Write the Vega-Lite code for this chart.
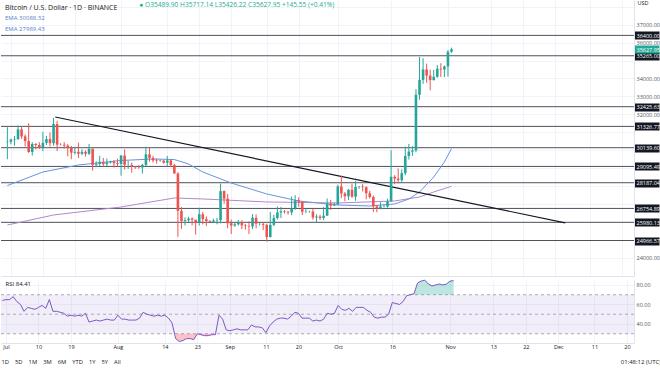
{
  "$schema": "https://vega.github.io/schema/vega-lite/v6.json",
  "padding": 0,
  "autosize": {"type": "pad"},
  "background": "white",
  "spacing": -4,
  "config": {"view": {"stroke": null}, "font": "Open Sans", "axis": {"labelFont": "Open Sans", "titleFont": "Open Sans"}},
  "title": {"text": "●  O35489.90  H35717.14  L35426.22  C35627.95  +145.55 (+0.41%)", "anchor": "start", "orient": "top", "dx": 139, "offset": -9, "fontSize": 6.6, "fontWeight": "normal", "color": "#22ab94"},
  "datasets": {
    "candles": [
      {"date":"2023-06-30","open":30450,"high":31280,"low":29500,"close":30470,"rsi":64},
      {"date":"2023-07-01","open":30470,"high":30650,"low":30330,"close":30590,"rsi":65},
      {"date":"2023-07-02","open":30590,"high":30790,"low":30250,"close":30620,"rsi":65},
      {"date":"2023-07-03","open":30620,"high":31380,"low":30570,"close":31160,"rsi":68},
      {"date":"2023-07-04","open":31160,"high":31330,"low":30630,"close":30770,"rsi":63},
      {"date":"2023-07-05","open":30770,"high":30880,"low":30210,"close":30510,"rsi":60},
      {"date":"2023-07-06","open":30510,"high":31500,"low":29850,"close":29900,"rsi":53},
      {"date":"2023-07-07","open":29900,"high":30450,"low":29700,"close":30350,"rsi":57},
      {"date":"2023-07-08","open":30350,"high":30390,"low":30040,"close":30290,"rsi":56},
      {"date":"2023-07-09","open":30290,"high":30440,"low":30070,"close":30170,"rsi":55},
      {"date":"2023-07-10","open":30170,"high":31030,"low":29950,"close":30410,"rsi":57},
      {"date":"2023-07-11","open":30410,"high":30800,"low":30290,"close":30620,"rsi":59},
      {"date":"2023-07-12","open":30620,"high":30990,"low":30200,"close":30390,"rsi":56},
      {"date":"2023-07-13","open":30390,"high":31800,"low":30250,"close":31460,"rsi":65},
      {"date":"2023-07-14","open":31460,"high":31640,"low":29950,"close":30310,"rsi":53},
      {"date":"2023-07-15","open":30310,"high":30390,"low":30260,"close":30300,"rsi":53},
      {"date":"2023-07-16","open":30300,"high":30450,"low":30090,"close":30250,"rsi":52},
      {"date":"2023-07-17","open":30250,"high":30340,"low":29660,"close":30140,"rsi":51},
      {"date":"2023-07-18","open":30140,"high":30240,"low":29500,"close":29860,"rsi":48},
      {"date":"2023-07-19","open":29860,"high":30190,"low":29760,"close":29910,"rsi":49},
      {"date":"2023-07-20","open":29910,"high":30420,"low":29570,"close":29800,"rsi":48},
      {"date":"2023-07-21","open":29800,"high":30050,"low":29720,"close":29910,"rsi":49},
      {"date":"2023-07-22","open":29910,"high":29990,"low":29640,"close":29800,"rsi":48},
      {"date":"2023-07-23","open":29800,"high":30350,"low":29730,"close":30080,"rsi":51},
      {"date":"2023-07-24","open":30080,"high":30100,"low":28860,"close":29180,"rsi":42},
      {"date":"2023-07-25","open":29180,"high":29380,"low":29050,"close":29230,"rsi":43},
      {"date":"2023-07-26","open":29230,"high":29690,"low":29100,"close":29350,"rsi":44},
      {"date":"2023-07-27","open":29350,"high":29570,"low":29090,"close":29220,"rsi":43},
      {"date":"2023-07-28","open":29220,"high":29530,"low":29120,"close":29310,"rsi":44},
      {"date":"2023-07-29","open":29310,"high":29410,"low":29260,"close":29350,"rsi":45},
      {"date":"2023-07-30","open":29350,"high":29450,"low":29030,"close":29280,"rsi":44},
      {"date":"2023-07-31","open":29280,"high":29530,"low":29100,"close":29230,"rsi":44},
      {"date":"2023-08-01","open":29230,"high":29740,"low":28580,"close":29700,"rsi":49},
      {"date":"2023-08-02","open":29700,"high":30050,"low":28920,"close":29180,"rsi":45},
      {"date":"2023-08-03","open":29180,"high":29410,"low":28960,"close":29180,"rsi":45},
      {"date":"2023-08-04","open":29180,"high":29310,"low":28750,"close":29080,"rsi":44},
      {"date":"2023-08-05","open":29080,"high":29110,"low":28960,"close":29050,"rsi":44},
      {"date":"2023-08-06","open":29050,"high":29170,"low":28970,"close":29040,"rsi":44},
      {"date":"2023-08-07","open":29040,"high":29240,"low":28700,"close":29180,"rsi":46},
      {"date":"2023-08-08","open":29180,"high":30200,"low":29110,"close":29770,"rsi":52},
      {"date":"2023-08-09","open":29770,"high":30140,"low":29360,"close":29570,"rsi":50},
      {"date":"2023-08-10","open":29570,"high":29690,"low":29320,"close":29430,"rsi":49},
      {"date":"2023-08-11","open":29430,"high":29540,"low":29250,"close":29400,"rsi":48},
      {"date":"2023-08-12","open":29400,"high":29480,"low":29360,"close":29420,"rsi":49},
      {"date":"2023-08-13","open":29420,"high":29460,"low":29250,"close":29300,"rsi":48},
      {"date":"2023-08-14","open":29300,"high":29680,"low":29100,"close":29430,"rsi":49},
      {"date":"2023-08-15","open":29430,"high":29480,"low":29060,"close":29170,"rsi":46},
      {"date":"2023-08-16","open":29170,"high":29250,"low":28700,"close":28700,"rsi":41},
      {"date":"2023-08-17","open":28700,"high":28780,"low":25170,"close":26620,"rsi":25},
      {"date":"2023-08-18","open":26620,"high":26830,"low":25620,"close":26050,"rsi":22},
      {"date":"2023-08-19","open":26050,"high":26260,"low":25800,"close":26100,"rsi":23},
      {"date":"2023-08-20","open":26100,"high":26290,"low":26000,"close":26190,"rsi":25},
      {"date":"2023-08-21","open":26190,"high":26260,"low":25810,"close":26120,"rsi":25},
      {"date":"2023-08-22","open":26120,"high":26130,"low":25300,"close":25990,"rsi":24},
      {"date":"2023-08-23","open":25990,"high":26790,"low":25800,"close":26430,"rsi":30},
      {"date":"2023-08-24","open":26430,"high":26560,"low":25860,"close":26160,"rsi":29},
      {"date":"2023-08-25","open":26160,"high":26310,"low":25780,"close":26050,"rsi":28},
      {"date":"2023-08-26","open":26050,"high":26100,"low":25980,"close":26010,"rsi":28},
      {"date":"2023-08-27","open":26010,"high":26180,"low":25970,"close":26080,"rsi":29},
      {"date":"2023-08-28","open":26080,"high":26220,"low":25870,"close":26100,"rsi":29},
      {"date":"2023-08-29","open":26100,"high":28140,"low":25920,"close":27720,"rsi":49},
      {"date":"2023-08-30","open":27720,"high":27760,"low":27020,"close":27300,"rsi":45},
      {"date":"2023-08-31","open":27300,"high":27570,"low":25650,"close":25930,"rsi":34},
      {"date":"2023-09-01","open":25930,"high":26130,"low":25330,"close":25800,"rsi":33},
      {"date":"2023-09-02","open":25800,"high":25970,"low":25730,"close":25870,"rsi":34},
      {"date":"2023-09-03","open":25870,"high":26110,"low":25800,"close":25970,"rsi":35},
      {"date":"2023-09-04","open":25970,"high":26100,"low":25600,"close":25810,"rsi":34},
      {"date":"2023-09-05","open":25810,"high":25890,"low":25570,"close":25780,"rsi":34},
      {"date":"2023-09-06","open":25780,"high":26040,"low":25330,"close":25750,"rsi":34},
      {"date":"2023-09-07","open":25750,"high":26440,"low":25610,"close":26240,"rsi":39},
      {"date":"2023-09-08","open":26240,"high":26420,"low":25650,"close":25900,"rsi":37},
      {"date":"2023-09-09","open":25900,"high":25940,"low":25800,"close":25900,"rsi":37},
      {"date":"2023-09-10","open":25900,"high":25980,"low":25550,"close":25840,"rsi":36},
      {"date":"2023-09-11","open":25840,"high":25900,"low":24900,"close":25160,"rsi":31},
      {"date":"2023-09-12","open":25160,"high":26560,"low":25130,"close":25840,"rsi":38},
      {"date":"2023-09-13","open":25840,"high":26400,"low":25760,"close":26220,"rsi":42},
      {"date":"2023-09-14","open":26220,"high":26860,"low":26130,"close":26530,"rsi":45},
      {"date":"2023-09-15","open":26530,"high":26840,"low":26220,"close":26600,"rsi":46},
      {"date":"2023-09-16","open":26600,"high":26670,"low":26470,"close":26570,"rsi":46},
      {"date":"2023-09-17","open":26570,"high":26620,"low":26410,"close":26530,"rsi":45},
      {"date":"2023-09-18","open":26530,"high":27420,"low":26380,"close":26760,"rsi":48},
      {"date":"2023-09-19","open":26760,"high":27490,"low":26680,"close":27210,"rsi":52},
      {"date":"2023-09-20","open":27210,"high":27380,"low":26850,"close":27130,"rsi":51},
      {"date":"2023-09-21","open":27130,"high":27150,"low":26380,"close":26570,"rsi":46},
      {"date":"2023-09-22","open":26570,"high":26740,"low":26490,"close":26580,"rsi":46},
      {"date":"2023-09-23","open":26580,"high":26630,"low":26520,"close":26580,"rsi":46},
      {"date":"2023-09-24","open":26580,"high":26740,"low":26130,"close":26250,"rsi":43},
      {"date":"2023-09-25","open":26250,"high":26430,"low":25990,"close":26300,"rsi":44},
      {"date":"2023-09-26","open":26300,"high":26400,"low":26110,"close":26220,"rsi":43},
      {"date":"2023-09-27","open":26220,"high":26830,"low":26100,"close":26350,"rsi":45},
      {"date":"2023-09-28","open":26350,"high":27310,"low":26340,"close":27020,"rsi":51},
      {"date":"2023-09-29","open":27020,"high":27230,"low":26670,"close":26910,"rsi":50},
      {"date":"2023-09-30","open":26910,"high":27090,"low":26890,"close":26970,"rsi":51},
      {"date":"2023-10-01","open":26970,"high":28070,"low":26950,"close":27980,"rsi":59},
      {"date":"2023-10-02","open":27980,"high":28580,"low":27330,"close":27590,"rsi":55},
      {"date":"2023-10-03","open":27590,"high":27670,"low":27160,"close":27430,"rsi":54},
      {"date":"2023-10-04","open":27430,"high":27840,"low":27220,"close":27790,"rsi":56},
      {"date":"2023-10-05","open":27790,"high":28130,"low":27340,"close":27410,"rsi":53},
      {"date":"2023-10-06","open":27410,"high":28290,"low":27180,"close":27950,"rsi":57},
      {"date":"2023-10-07","open":27950,"high":28000,"low":27850,"close":27970,"rsi":57},
      {"date":"2023-10-08","open":27970,"high":28110,"low":27700,"close":27940,"rsi":57},
      {"date":"2023-10-09","open":27940,"high":27990,"low":27260,"close":27600,"rsi":54},
      {"date":"2023-10-10","open":27600,"high":27740,"low":27300,"close":27390,"rsi":52},
      {"date":"2023-10-11","open":27390,"high":27480,"low":26560,"close":26870,"rsi":47},
      {"date":"2023-10-12","open":26870,"high":26940,"low":26540,"close":26750,"rsi":46},
      {"date":"2023-10-13","open":26750,"high":27100,"low":26700,"close":26860,"rsi":47},
      {"date":"2023-10-14","open":26860,"high":26970,"low":26810,"close":26860,"rsi":47},
      {"date":"2023-10-15","open":26860,"high":27290,"low":26800,"close":27160,"rsi":50},
      {"date":"2023-10-16","open":27160,"high":30000,"low":27120,"close":28520,"rsi":62},
      {"date":"2023-10-17","open":28520,"high":28610,"low":28100,"close":28420,"rsi":61},
      {"date":"2023-10-18","open":28420,"high":28980,"low":28150,"close":28330,"rsi":60},
      {"date":"2023-10-19","open":28330,"high":28930,"low":28170,"close":28720,"rsi":63},
      {"date":"2023-10-20","open":28720,"high":30200,"low":28600,"close":29680,"rsi":69},
      {"date":"2023-10-21","open":29680,"high":30350,"low":29480,"close":29920,"rsi":70},
      {"date":"2023-10-22","open":29920,"high":30220,"low":29680,"close":29990,"rsi":71},
      {"date":"2023-10-23","open":29990,"high":33400,"low":29880,"close":33090,"rsi":82},
      {"date":"2023-10-24","open":33090,"high":35200,"low":32820,"close":33920,"rsi":84},
      {"date":"2023-10-25","open":33920,"high":35130,"low":33700,"close":34500,"rsi":85},
      {"date":"2023-10-26","open":34500,"high":34830,"low":33760,"close":34160,"rsi":81},
      {"date":"2023-10-27","open":34160,"high":34490,"low":33340,"close":33910,"rsi":79},
      {"date":"2023-10-28","open":33910,"high":34480,"low":33880,"close":34090,"rsi":80},
      {"date":"2023-10-29","open":34090,"high":34750,"low":34040,"close":34540,"rsi":81},
      {"date":"2023-10-30","open":34540,"high":34850,"low":34080,"close":34500,"rsi":80},
      {"date":"2023-10-31","open":34500,"high":34720,"low":34080,"close":34670,"rsi":81},
      {"date":"2023-11-01","open":34670,"high":35580,"low":34100,"close":35490,"rsi":84},
      {"date":"2023-11-02","open":35490,"high":35717,"low":35426,"close":35628,"rsi":84.41}
    ],
    "levels": [
      {"level": 36400}, {"level": 35265}, {"level": 32425.63}, {"level": 31326.77}, {"level": 30139.6},
      {"level": 29095.49}, {"level": 28187.04}, {"level": 26754.89}, {"level": 25980.13}, {"level": 24966.57}
    ],
    "trend": [
      {"date": "2023-07-13T11:00:00Z", "price": 31850},
      {"date": "2023-12-04T00:00:00Z", "price": 25950}
    ],
    "ema50": [
      {"date":"2023-06-30","ema":28030},{"date":"2023-07-10","ema":28786},{"date":"2023-07-20","ema":29176},
      {"date":"2023-08-01","ema":29427},{"date":"2023-08-10","ema":29510},{"date":"2023-08-16","ema":29480},
      {"date":"2023-08-20","ema":29232},{"date":"2023-08-24","ema":28786},{"date":"2023-09-01","ema":28173},
      {"date":"2023-09-11","ema":27560},{"date":"2023-09-20","ema":27170},{"date":"2023-10-01","ema":26946},
      {"date":"2023-10-10","ema":26890},{"date":"2023-10-17","ema":27002},{"date":"2023-10-21","ema":27280},
      {"date":"2023-10-24","ema":27670},{"date":"2023-10-28","ema":28507},{"date":"2023-10-31","ema":29343},
      {"date":"2023-11-02","ema":30088}
    ],
    "ema100": [
      {"date":"2023-06-30","ema":25830},{"date":"2023-07-13","ema":26389},{"date":"2023-08-01","ema":26835},
      {"date":"2023-08-16","ema":27337},{"date":"2023-08-24","ema":27282},{"date":"2023-09-11","ema":27114},
      {"date":"2023-10-01","ema":27058},{"date":"2023-10-17","ema":27170},{"date":"2023-10-24","ema":27393},
      {"date":"2023-10-28","ema":27672},{"date":"2023-11-02","ema":27989}
    ],
    "rsiband": [{"upper": 70, "lower": 30}],
    "rsilevels": [{"level": 70}, {"level": 50}, {"level": 30}]
  },
  "vconcat": [
    {
      "width": 633,
      "height": 276,
      "title": {"text": "\u00a0\u00a0\u00a0Bitcoin / U.S. Dollar · 1D · BINANCE", "subtitle": ["EMA  30088.32", "EMA  27989.43"], "anchor": "start", "frame": "group", "orient": "top", "dx": 4, "offset": -32, "fontSize": 7, "fontWeight": "normal", "color": "#131722", "subtitleFontSize": 6, "subtitleColor": "#5b7fcc", "subtitlePadding": 4, "subtitleLineHeight": 11},
      "layer": [
        {
          "data": {"name": "levels"},
          "mark": {"type": "rule", "color": "#4f5259", "strokeWidth": 1},
          "encoding": {
            "y": {"field": "level", "type": "quantitative",
              "scale": {"domain": [22988, 38373], "nice": false, "zero": false},
              "axis": {
                "orient": "right", "minExtent": 27, "maxExtent": 27, "tickCount": 500,
                "values": [23000,24000,24966.57,25000,25980.13,26000,26754.89,27000,28000,28187.04,29000,29095.49,30000,30139.6,31000,31326.77,32000,32425.63,33000,34000,35000,35265,35627.95,36000,36400,37000,38000],
                "format": ".2f", "labelFontSize": 5.5, "labelPadding": -23, "labelOverlap": false, "labelFlush": false, "labelBound": false,
                "tickSize": 25,
                "tickColor": {"condition": [{"test": "datum.value == 35627.95", "value": "#22ab94"}, {"test": "datum.value % 1000 != 0", "value": "#131722"}], "value": "rgba(0,0,0,0)"},
                "tickWidth": {"condition": {"test": "datum.value % 1000 != 0", "value": 8}, "value": 1},
                "labelColor": {"condition": {"test": "datum.value % 1000 != 0", "value": "#ffffff"}, "value": "#50535e"},
                "labelOpacity": {"condition": {"test": "indexof([23000,25000,26000,27000,28000,29000,30000,31000,35000,38000], datum.value) >= 0", "value": 0}, "value": 1},
                "grid": true, "gridColor": "#f0f3fa",
                "gridOpacity": {"condition": {"test": "datum.value % 1000 != 0", "value": 0}, "value": 1},
                "domain": true, "domainColor": "#e0e3eb",
                "title": "USD", "titleAngle": 0, "titleAnchor": "end", "titleAlign": "left", "titleBaseline": "top", "titlePadding": -24, "titleFontSize": 5.5, "titleFontWeight": "normal", "titleColor": "#131722"
              }
            }
          }
        },
        {
          "data": {"name": "ema100"},
          "mark": {"type": "line", "color": "#b388cc", "strokeWidth": 1},
          "encoding": {
            "x": {"field": "date", "type": "temporal",
              "scale": {"type": "utc", "domain": [{"year": 2023, "month": 6, "date": 29, "hours": 14, "minutes": 46, "utc": true}, {"year": 2023, "month": 12, "date": 21, "hours": 23, "utc": true}]},
              "axis": {"orient": "bottom", "tickCount": 500, "values": [{"year":2023,"month":7,"date":1,"utc":true},{"year":2023,"month":7,"date":10,"utc":true},{"year":2023,"month":7,"date":19,"utc":true},{"year":2023,"month":8,"date":1,"utc":true},{"year":2023,"month":8,"date":14,"utc":true},{"year":2023,"month":8,"date":23,"utc":true},{"year":2023,"month":9,"date":1,"utc":true},{"year":2023,"month":9,"date":11,"utc":true},{"year":2023,"month":9,"date":20,"utc":true},{"year":2023,"month":10,"date":1,"utc":true},{"year":2023,"month":10,"date":16,"utc":true},{"year":2023,"month":11,"date":1,"utc":true},{"year":2023,"month":11,"date":13,"utc":true},{"year":2023,"month":11,"date":22,"utc":true},{"year":2023,"month":12,"date":1,"utc":true},{"year":2023,"month":12,"date":11,"utc":true},{"year":2023,"month":12,"date":20,"utc":true}],
                "labels": false, "ticks": false, "domain": true, "domainColor": "#e0e3eb", "grid": true, "gridColor": "#f0f3fa", "title": null, "minExtent": 0, "maxExtent": 1}
            },
            "y": {"field": "ema", "type": "quantitative", "scale": {"domain": [22988, 38373], "nice": false, "zero": false}}
          }
        },
        {
          "data": {"name": "ema50"},
          "mark": {"type": "line", "color": "#6b93dc", "strokeWidth": 1},
          "encoding": {
            "x": {"field": "date", "type": "temporal"},
            "y": {"field": "ema", "type": "quantitative"}
          }
        },
        {
          "data": {"name": "trend"},
          "mark": {"type": "line", "color": "#131722", "strokeWidth": 1.2},
          "encoding": {
            "x": {"field": "date", "type": "temporal"},
            "y": {"field": "price", "type": "quantitative"}
          }
        },
        {
          "data": {"name": "candles"},
          "mark": {"type": "rule", "strokeWidth": 1},
          "encoding": {
            "x": {"field": "date", "type": "temporal"},
            "y": {"field": "low", "type": "quantitative"},
            "y2": {"field": "high"},
            "color": {"condition": {"test": "datum.close >= datum.open", "value": "#26a69a"}, "value": "#ef5350"}
          }
        },
        {
          "data": {"name": "candles"},
          "mark": {"type": "bar", "size": 2.6},
          "encoding": {
            "x": {"field": "date", "type": "temporal"},
            "y": {"field": "open", "type": "quantitative"},
            "y2": {"field": "close"},
            "color": {"condition": {"test": "datum.close >= datum.open", "value": "#26a69a"}, "value": "#ef5350"}
          }
        }
      ]
    },
    {
      "width": 633,
      "height": 63,
      "title": {"text": "01:48:12 (UTC)", "orient": "bottom", "anchor": "end", "offset": -5, "fontSize": 6, "fontWeight": "normal", "color": "#131722"},
      "layer": [
        {
          "data": {"name": "rsiband"},
          "mark": {"type": "rect", "color": "#7e57c2", "opacity": 0.1},
          "encoding": {
            "y": {"field": "upper", "type": "quantitative",
              "scale": {"domain": [20.5, 85.1], "nice": false, "zero": false},
              "axis": {"orient": "right", "minExtent": 27, "maxExtent": 27, "tickCount": 500, "values": [40, 60, 80], "format": ".2f",
                "labelFontSize": 5.5, "labelPadding": -23, "labelColor": "#50535e", "tickSize": 25, "tickColor": "rgba(0,0,0,0)",
                "grid": true, "gridColor": "#f0f3fa", "domain": true, "domainColor": "#e0e3eb",
                "title": "RSI   84.41", "titleAngle": 0, "titleAnchor": "end", "titleAlign": "left", "titleBaseline": "top", "titlePadding": -656, "titleFontSize": 6, "titleFontWeight": "normal", "titleColor": "#131722"}
            },
            "y2": {"field": "lower"}
          }
        },
        {
          "data": {"name": "rsilevels"},
          "mark": {"type": "rule", "color": "#9598a1", "strokeWidth": 0.8, "strokeDash": [3, 3]},
          "encoding": {"y": {"field": "level", "type": "quantitative"}}
        },
        {
          "data": {"name": "candles"},
          "transform": [{"filter": "datum.rsi >= 70"}],
          "mark": {"type": "area", "color": "#22ab94", "opacity": 0.3},
          "encoding": {
            "x": {"field": "date", "type": "temporal"},
            "y": {"field": "rsi", "type": "quantitative"},
            "y2": {"datum": 70}
          }
        },
        {
          "data": {"name": "candles"},
          "transform": [{"filter": "datum.rsi <= 30"}],
          "mark": {"type": "area", "color": "#f23645", "opacity": 0.3},
          "encoding": {
            "x": {"field": "date", "type": "temporal"},
            "y": {"field": "rsi", "type": "quantitative"},
            "y2": {"datum": 30}
          }
        },
        {
          "data": {"name": "candles"},
          "mark": {"type": "line", "color": "#7e57c2", "strokeWidth": 1},
          "encoding": {
            "x": {"field": "date", "type": "temporal",
              "scale": {"type": "utc", "domain": [{"year": 2023, "month": 6, "date": 29, "hours": 14, "minutes": 46, "utc": true}, {"year": 2023, "month": 12, "date": 21, "hours": 23, "utc": true}]},
              "axis": {"orient": "bottom", "tickCount": 500, "values": [{"year":2023,"month":7,"date":1,"utc":true},{"year":2023,"month":7,"date":10,"utc":true},{"year":2023,"month":7,"date":19,"utc":true},{"year":2023,"month":8,"date":1,"utc":true},{"year":2023,"month":8,"date":14,"utc":true},{"year":2023,"month":8,"date":23,"utc":true},{"year":2023,"month":9,"date":1,"utc":true},{"year":2023,"month":9,"date":11,"utc":true},{"year":2023,"month":9,"date":20,"utc":true},{"year":2023,"month":10,"date":1,"utc":true},{"year":2023,"month":10,"date":16,"utc":true},{"year":2023,"month":11,"date":1,"utc":true},{"year":2023,"month":11,"date":13,"utc":true},{"year":2023,"month":11,"date":22,"utc":true},{"year":2023,"month":12,"date":1,"utc":true},{"year":2023,"month":12,"date":11,"utc":true},{"year":2023,"month":12,"date":20,"utc":true}],
                "labelExpr": "utcdate(datum.value) == 1 ? utcFormat(datum.value, '%b') : utcFormat(datum.value, '%-d')",
                "labelFontSize": 5.5, "labelColor": "#131722", "labelPadding": 1, "labelFlush": false, "labelOverlap": false,
                "ticks": false, "domain": true, "domainColor": "#e0e3eb", "grid": true, "gridColor": "#f0f3fa",
                "title": "1D\u00a0\u00a0\u00a0 5D\u00a0\u00a0\u00a0 1M\u00a0\u00a0\u00a0 3M\u00a0\u00a0\u00a0 6M\u00a0\u00a0\u00a0 YTD\u00a0\u00a0\u00a0 1Y\u00a0\u00a0\u00a0 5Y\u00a0\u00a0\u00a0 All", "titleAnchor": "start", "titleAlign": "left", "titlePadding": 9, "titleFontSize": 5.8, "titleFontWeight": "normal", "titleColor": "#131722"}
            },
            "y": {"field": "rsi", "type": "quantitative"}
          }
        }
      ]
    }
  ]
}
